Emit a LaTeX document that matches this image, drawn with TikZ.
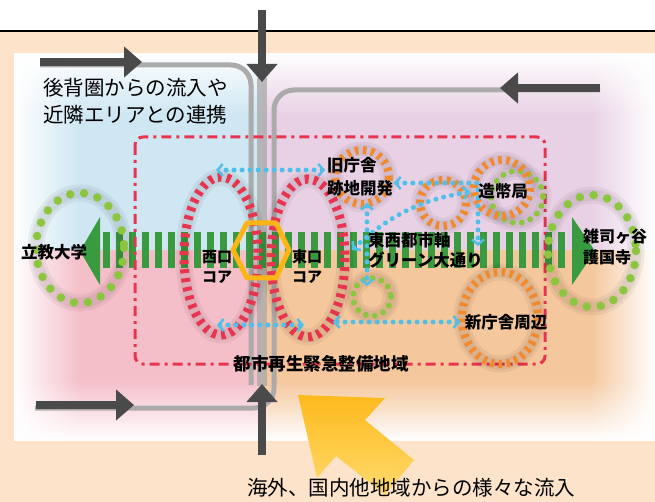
\documentclass[tikz,border=0pt]{standalone}
\usepackage[dvipsnames]{xcolor}
\usepackage{fontspec}
\newfontfamily\jpfont{Noto Sans CJK JP}
\usetikzlibrary{arrows.meta,fadings}

\definecolor{bgpeach}{HTML}{FDE3CA}
\definecolor{tlblue}{HTML}{CFE7F3}
\definecolor{trlilac}{HTML}{E9D1E5}
\definecolor{blpink}{HTML}{F5BFCA}
\definecolor{brorange}{HTML}{F5C79C}
\definecolor{roadgray}{HTML}{ABABAB}
\definecolor{arrowgray}{HTML}{4A4A4A}
\definecolor{ringred}{HTML}{E8344E}
\definecolor{ringorange}{HTML}{F08A2C}
\definecolor{ringgreen}{HTML}{8CC63F}
\definecolor{bandgreen}{HTML}{3A9A3F}
\definecolor{flowblue}{HTML}{4EC0EA}
\definecolor{hexyellow}{HTML}{FDB515}
\definecolor{sundeep}{HTML}{FDBA1C}
\definecolor{sunlight}{HTML}{FFDA6E}

\tikzset{
  road/.style = {draw = roadgray, line width = 5pt},
  inflow/.style = {draw = arrowgray, line width = 7.5pt, -{Triangle[length=18pt, width=30pt]}},
  halo/.style = {draw = black, opacity = 0.05, line width = #1},
  redring/.style = {draw = ringred, line width = 9pt, dash pattern = on 4pt off 5pt},
  orangering/.style = {draw = ringorange, line width = 8pt, dash pattern = on 3.5pt off 4.5pt},
  greenring/.style = {draw = ringgreen, line width = 8.5pt, line cap = round, dash pattern = on 0pt off 14pt},
  smallgreen/.style = {draw = ringgreen, line width = 6pt, line cap = round, dash pattern = on 0pt off 9pt},
  flow/.style = {draw = flowblue, line width = 5pt, line cap = round, dash pattern = on 0pt off 8pt,
    {Straight Barb[length=5pt, width=12pt, line width=2.5pt]}-{Straight Barb[length=5pt, width=12pt, line width=2.5pt]}},
  lab/.style = {inner sep = 0pt, font = \jpfont\bfseries\fontsize{16.5}{23}\selectfont},
  corelab/.style = {inner sep = 0pt, anchor = west, align = left, font = \jpfont\bfseries\fontsize{15}{20}\selectfont},
  bigtext/.style = {inner sep = 0pt, font = \jpfont\fontsize{20.5}{27}\selectfont}
}

\begin{document}
\begin{tikzpicture}[x = 1pt, y = -1pt]
  \useasboundingbox (0,0) rectangle (655,502);
  % backdrop
  \fill [white] (0,0) rectangle (655,502);
  \fill [bgpeach] (0,32) rectangle (655,502);
  \draw [line width = 1.5pt] (0,31) -- (655,31);
  \fill [white] (14,53) rectangle (655,441);
  \fill [tlblue] (14,53) rectangle (262,250);
  \fill [trlilac] (262,53) rectangle (655,250);
  \fill [blpink] (14,250) rectangle (262,441);
  \fill [brorange] (262,250) rectangle (655,441);
  \fill [white, path fading = east] (14,53) rectangle (80,441);
  \fill [white, path fading = west] (590,53) rectangle (655,441);
  \fill [white, path fading = south] (14,53) rectangle (655,115);
  \fill [white, path fading = north] (14,380) rectangle (655,441);

  % roads
  \draw [road, rounded corners = 20pt] (40,65) -| (251,385);
  \draw [road, rounded corners = 20pt] (600,90) -| (274,408) -- (35,408);
  \draw [road, line width = 10pt, opacity = 0.8] (262,78) -- (262,386);

  % green axis
  \foreach \x in {103, 116, ..., 560}
    \fill [bandgreen] (\x,232) rectangle ++(7,36);
  \fill [bandgreen] (100,217) -- (80,251) -- (100,285) -- cycle;
  \fill [bandgreen] (572,217) -- (595,251) -- (572,285) -- cycle;

  % zone
  \draw [ringred, line width = 3pt, rounded corners = 8pt,
         dash pattern = on 10pt off 5pt on 3pt off 5pt] (135,137) rectangle (545,364);

  % rings
  \coordinate (rikkyo) at (80,248);
  \coordinate (zoshi) at (592,251);
  \coordinate (plaza) at (372,297);
  \coordinate (mintB) at (517,197);
  \coordinate (westcore) at (221,256);
  \coordinate (eastcore) at (308,258);
  \coordinate (oldhall) at (362,177);
  \coordinate (midring) at (443,203);
  \coordinate (mint) at (502,188);
  \coordinate (newhall) at (500,318);
  \foreach \c/\a/\b in {rikkyo/44/55, zoshi/44/56, plaza/19/19, mintB/26/26,
      westcore/37/79, eastcore/37/79, oldhall/27/27, midring/23/23, mint/28/28, newhall/38/46}
    {\draw [halo = 17pt] (\c) ellipse [x radius = \a, y radius = \b];
     \draw [halo = 11pt] (\c) ellipse [x radius = \a, y radius = \b];}
  \draw [greenring] (rikkyo) ellipse [x radius = 44, y radius = 55];
  \draw [greenring] (zoshi) ellipse [x radius = 44, y radius = 56];
  \draw [smallgreen] (plaza) circle (19);
  \draw [smallgreen] (mintB) circle (26);
  \draw [redring] (westcore) ellipse [x radius = 37, y radius = 79];
  \draw [redring] (eastcore) ellipse [x radius = 37, y radius = 79];
  \foreach \c/\r in {oldhall/27, midring/23, mint/28}
    \draw [orangering] (\c) circle (\r);
  \draw [orangering] (newhall) ellipse [x radius = 38, y radius = 46];

  % station hexagon
  \draw [hexyellow, line width = 5pt, line join = round]
    (233,250) -- (247,223) -- (276,223) -- (289,250) -- (276,278) -- (247,278) -- cycle;

  % flows between areas
  \coordinate (f1a) at (325,170); \coordinate (f1b) at (216,170);
  \coordinate (f2a) at (217,325); \coordinate (f2b) at (304,325);
  \coordinate (f3a) at (460,322); \coordinate (f3b) at (333,322);
  \coordinate (f4a) at (367,203); \coordinate (f4b) at (367,286);
  \coordinate (f5a) at (394,183); \coordinate (f5b) at (478,246);
  \coordinate (f6a) at (470,192); \coordinate (f6b) at (352,250);
  \draw [flow] (f1a) -- (f1b);
  \draw [flow] (f2a) -- (f2b);
  \draw [flow] (f3a) -- (f3b);
  \draw [flow] (f4a) -- (f4b);
  \draw [flow] (f5a) -| (f5b);
  \draw [flow] (f6a) .. controls (430,198) and (395,210) .. (f6b);

  % big inflow
  \shade [top color = sundeep, bottom color = sunlight]
    (298,395) -- (385,398) -- (365,420) -- (414,460) -- (385,495) -- (336,456) -- (317,478) -- cycle;

  % inflow arrows
  \coordinate (inTLa) at (40,62);  \coordinate (inTLb) at (142,62);
  \coordinate (inTa) at (262,10);  \coordinate (inTb) at (262,82);
  \coordinate (inTRa) at (600,88); \coordinate (inTRb) at (500,88);
  \coordinate (inBLa) at (36,405); \coordinate (inBLb) at (134,405);
  \coordinate (inBa) at (262,455); \coordinate (inBb) at (262,384);
  \foreach \p in {TL, T, TR, BL, B}
    \draw [inflow] (in\p a) -- (in\p b);

  % labels
  \node [bigtext, anchor = west, align = left] (hinter) at (43,101) {後背圏からの流入や\\近隣エリアとの連携};
  \node [bigtext] (abroad) at (411,488) {海外、国内他地域からの様々な流入};
  \node [lab] (rikkyolab) at (54,252) {立教大学};
  \node [lab, anchor = west, align = left, font = \jpfont\bfseries\fontsize{16}{21}\selectfont]
    (zoshilab) at (583,247) {雑司ヶ谷\\護国寺};
  \node [corelab] (westlab) at (202,267) {西口\\コア};
  \node [corelab] (eastlab) at (292,267) {東口\\コア};
  \node [lab, anchor = west, align = left] (oldlab) at (327,177) {旧庁舎\\跡地開発};
  \node [lab] (mintlab) at (503,191) {造幣局};
  \node [lab, anchor = west, align = left, font = \jpfont\bfseries\fontsize{16.5}{20}\selectfont]
    (axislab) at (368,250) {東西都市軸\\グリーン大通り};
  \node [lab] (newlab) at (506,322) {新庁舎周辺};
  \node [lab, font = \jpfont\bfseries\fontsize{17.5}{20}\selectfont] (zonelab) at (321,364) {都市再生緊急整備地域};
\end{tikzpicture}
\end{document}
